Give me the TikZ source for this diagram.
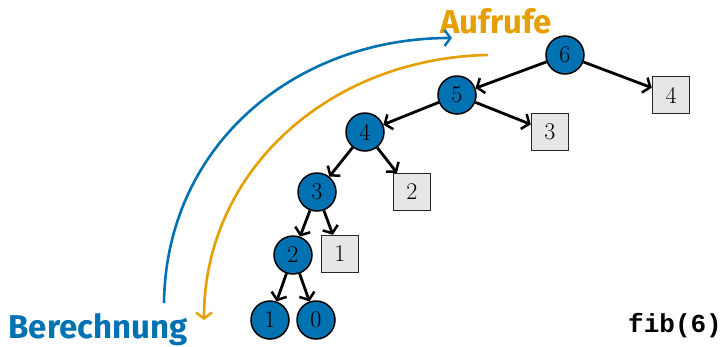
\documentclass[tikz,border=0pt]{standalone}
\usepackage{fontspec}
\setmainfont{Latin Modern Roman}
\newfontfamily\labelfont{Fira Sans}
\newfontfamily\codefont{Liberation Mono}
\usetikzlibrary{arrows.meta}
\definecolor{myblue}{RGB}{0,114,178}
\definecolor{myorange}{RGB}{230,159,0}
\definecolor{boxgray}{RGB}{230,230,230}
\tikzset{
  callnode/.style={circle, draw=black, line width=1.5pt, fill=myblue, minimum size=38pt, inner sep=0pt, font=\fontsize{24}{24}\selectfont},
  leafbox/.style={rectangle, draw=black!85, line width=1.5pt, fill=boxgray, minimum size=37pt, inner sep=0pt, font=\fontsize{24}{24}\selectfont},
  edge/.style={line width=2.8pt, -{Straight Barb[length=6pt,width=16pt,line width=2.5pt]}},
  arc/.style={line width=2.6pt, -{Straight Barb[length=6pt,width=16pt,line width=2.4pt]}}
}
\begin{document}
\begin{tikzpicture}[x=1pt,y=-1pt]
\useasboundingbox (0,0) rectangle (728,346);
\node[callnode] (n6) at (565,55) {6};
\node[callnode] (n5) at (457,95) {5};
\node[callnode] (n4) at (365,132) {4};
\node[callnode] (n3) at (317,192) {3};
\node[callnode] (n2) at (293,255) {2};
\node[callnode] (n1) at (270,320) {1};
\node[callnode] (n0) at (316,320) {0};
\node[leafbox] (b4) at (671,95) {4};
\node[leafbox] (b3) at (550,132) {3};
\node[leafbox] (b2) at (412,192) {2};
\node[leafbox] (b1) at (340,254) {1};
\draw[edge] (n6) -- (n5);
\draw[edge] (n6) -- (b4);
\draw[edge] (n5) -- (n4);
\draw[edge] (n5) -- (b3);
\draw[edge] (n4) -- (n3);
\draw[edge] (n4) -- (b2);
\draw[edge] (n3) -- (n2);
\draw[edge] (n3) -- (b1);
\draw[edge] (n2) -- (n1);
\draw[edge] (n2) -- (n0);
\node[text=myorange, font=\labelfont\bfseries\fontsize{33}{33}\selectfont, anchor=base] (auf) at (496,33) {Aufrufe};
\node[text=myblue, font=\labelfont\bfseries\fontsize{33}{33}\selectfont, anchor=base] (ber) at (98,338) {Berechnung};
\node[font=\codefont\bfseries\fontsize{26}{26}\selectfont, anchor=base] (fib) at (675,332) {fib(6)};
\coordinate (bs) at (164,303);
\coordinate (be) at (452,38);
\coordinate (os) at (488,55);
\coordinate (oe) at (204,320);
\draw[arc, myblue] (bs) .. controls (166,145) and (295,38) .. (be);
\draw[arc, myorange] (os) .. controls (330,58) and (204,170) .. (oe);
\end{tikzpicture}
\end{document}
